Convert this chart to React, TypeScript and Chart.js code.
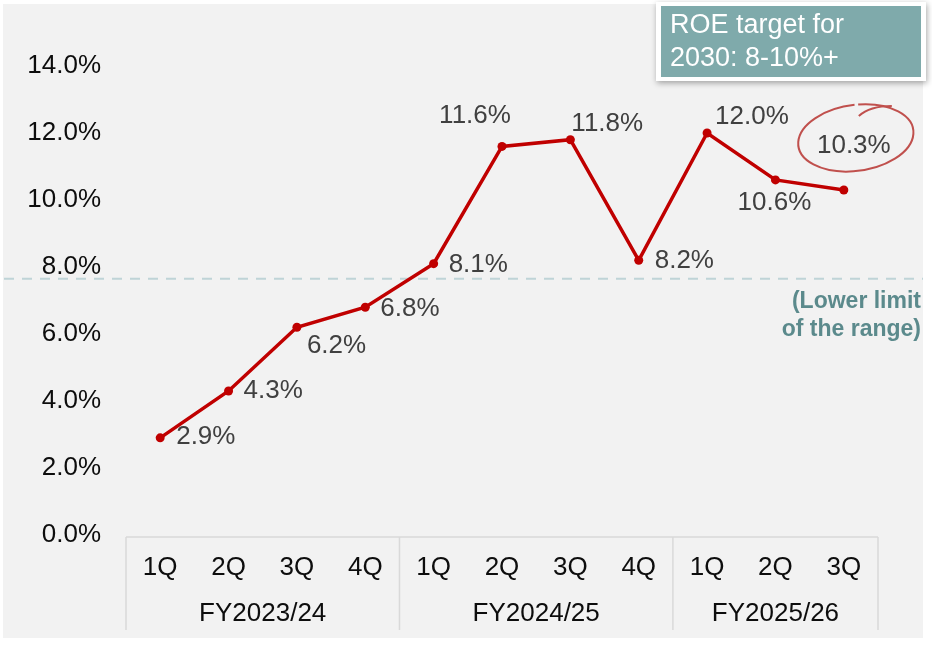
import React, { useEffect, useRef } from "react";
import { Chart, registerables } from "chart.js";

Chart.register(...registerables);

// ---- data ----
const quarters = ["1Q", "2Q", "3Q", "4Q", "1Q", "2Q", "3Q", "4Q", "1Q", "2Q", "3Q"];
const fiscalYears = ["FY2023/24", "FY2024/25", "FY2025/26"];
const quartersPerYear = [4, 4, 3];
const roeValues = [2.9, 4.3, 6.2, 6.8, 8.1, 11.6, 11.8, 8.2, 12.0, 10.6, 10.3];
const yTickValues = [0, 2, 4, 6, 8, 10, 12, 14];
const lowerLimitLine = 7.65;
const targetText = ["ROE target for", "2030: 8-10%+"];
const lowerLimitText = ["(Lower limit", "of the range)"];
const highlightIndex = 10;

// ---- label placement (style) ----
type Placement = { dx: number; dy: number; align: CanvasTextAlign };
const labelPlacement: Placement[] = [
  { dx: 16, dy: -1, align: "left" },
  { dx: 15, dy: 0, align: "left" },
  { dx: 10, dy: 19, align: "left" },
  { dx: 15, dy: 2, align: "left" },
  { dx: 15, dy: 1, align: "left" },
  { dx: -27, dy: -31, align: "center" },
  { dx: 1, dy: -16, align: "left" },
  { dx: 16, dy: 1, align: "left" },
  { dx: 8, dy: -16, align: "left" },
  { dx: -1, dy: 23, align: "center" },
  { dx: 10, dy: -44, align: "center" },
];

const FONT = "'Liberation Sans', Arial, sans-serif";
const RED = "#c00000";
const GRID = "#d9d9d9";

const decorPlugin = {
  id: "decor",
  beforeDraw(chart: any) {
    const { ctx, width, height } = chart;
    const yScale = chart.scales.y;
    const xScale = chart.scales.x;
    const area = chart.chartArea;
    ctx.save();
    ctx.fillStyle = "#ffffff";
    ctx.fillRect(0, 0, width, height);
    ctx.fillStyle = "#f2f2f2";
    ctx.fillRect(3, 4, 920, 634);

    // dashed lower-limit line
    const ly = yScale.getPixelForValue(lowerLimitLine);
    ctx.strokeStyle = "#bfd4d7";
    ctx.lineWidth = 2;
    ctx.setLineDash([10, 8]);
    ctx.beginPath();
    ctx.moveTo(4, ly);
    ctx.lineTo(923, ly);
    ctx.stroke();
    ctx.setLineDash([]);

    // lower limit text
    ctx.fillStyle = "#5b8a8c";
    ctx.font = `bold 23px ${FONT}`;
    ctx.textAlign = "right";
    ctx.textBaseline = "middle";
    lowerLimitText.forEach((t, i) => ctx.fillText(t, 921, ly + 23 + i * 28));

    // category table
    const top = area.bottom + 2;
    const bottom = 630;
    ctx.strokeStyle = GRID;
    ctx.lineWidth = 1.5;
    ctx.beginPath();
    ctx.moveTo(area.left, top);
    ctx.lineTo(area.right, top);
    ctx.stroke();
    const half = (xScale.getPixelForValue(1) - xScale.getPixelForValue(0)) / 2;
    let idx = 0;
    const bounds: number[] = [area.left];
    quartersPerYear.forEach((n) => {
      idx += n;
      bounds.push(idx >= quarters.length ? area.right : xScale.getPixelForValue(idx - 1) + half);
    });
    bounds.forEach((bx) => {
      ctx.beginPath();
      ctx.moveTo(bx, top);
      ctx.lineTo(bx, bottom);
      ctx.stroke();
    });
    ctx.fillStyle = "#0d0d0d";
    ctx.font = `26px ${FONT}`;
    ctx.textAlign = "center";
    ctx.textBaseline = "middle";
    fiscalYears.forEach((fy, i) => {
      ctx.fillText(fy, (bounds[i] + bounds[i + 1]) / 2, 614);
    });
    ctx.restore();
  },
  afterDatasetsDraw(chart: any) {
    const { ctx } = chart;
    const meta = chart.getDatasetMeta(0);
    ctx.save();
    ctx.font = `26px ${FONT}`;
    ctx.fillStyle = "#404040";
    ctx.textBaseline = "middle";
    meta.data.forEach((el: any, i: number) => {
      const p = labelPlacement[i];
      ctx.textAlign = p.align;
      ctx.fillText(`${roeValues[i].toFixed(1)}%`, el.x + p.dx, el.y + p.dy);
    });

    // hand-drawn circle around highlighted value
    const hp = meta.data[highlightIndex];
    const cx = hp.x + 12;
    const cy = hp.y - 52;
    ctx.strokeStyle = "#c0504d";
    ctx.lineWidth = 2;
    ctx.beginPath();
    ctx.ellipse(cx, cy, 58, 33, -0.14, -1.45, -1.45 + Math.PI * 2 * 0.99);
    ctx.stroke();
    ctx.beginPath();
    ctx.moveTo(cx + 3, cy - 22);
    ctx.quadraticCurveTo(cx + 14, cy - 32, cx + 36, cy - 32);
    ctx.stroke();

    // target box
    ctx.shadowColor = "rgba(0,0,0,0.35)";
    ctx.shadowBlur = 6;
    ctx.shadowOffsetX = 1;
    ctx.shadowOffsetY = 2;
    ctx.fillStyle = "#ffffff";
    ctx.fillRect(656, 2, 270, 79);
    ctx.shadowColor = "transparent";
    ctx.fillStyle = "#7faaab";
    ctx.fillRect(661, 6, 260, 71);
    ctx.fillStyle = "#ffffff";
    ctx.font = `27px ${FONT}`;
    ctx.textAlign = "left";
    ctx.textBaseline = "middle";
    targetText.forEach((t, i) => ctx.fillText(t, 670, 26 + i * 33));
    ctx.restore();
  },
};

export default function App() {
  const ref = useRef<HTMLCanvasElement>(null);
  useEffect(() => {
    if (!ref.current) return;
    const chart = new Chart(ref.current, {
      type: "line",
      data: {
        labels: quarters,
        datasets: [
          {
            data: roeValues,
            borderColor: RED,
            backgroundColor: RED,
            borderWidth: 3.5,
            pointRadius: 4.5,
            pointBackgroundColor: RED,
            pointBorderWidth: 0,
            tension: 0,
          },
        ],
      },
      options: {
        animation: false,
        responsive: false,
        layout: { padding: { top: 66, right: 54, bottom: 0, left: 0 } },
        plugins: { legend: { display: false }, tooltip: { enabled: false } },
        scales: {
          x: {
            type: "category",
            offset: true,
            grid: { display: false },
            border: { display: false },
            ticks: {
              font: { family: FONT, size: 26 },
              color: "#0d0d0d",
              padding: 9,
              maxRotation: 0,
              autoSkip: false,
            },
            afterFit: (s: any) => {
              s.height = 111;
            },
          },
          y: {
            min: 0,
            max: 14,
            grid: { display: false },
            border: { display: false },
            afterBuildTicks: (s: any) => {
              s.ticks = yTickValues.map((v) => ({ value: v }));
            },
            ticks: {
              font: { family: FONT, size: 26 },
              color: "#0d0d0d",
              padding: 17,
              callback: (v: any) => `${Number(v).toFixed(1)}%`,
            },
            afterFit: (s: any) => {
              s.width = 126;
            },
          },
        },
      },
      plugins: [decorPlugin],
    });
    return () => chart.destroy();
  }, []);
  return (
    <div style={{ position: "fixed", left: 0, top: 0, width: 932, height: 646 }}>
      <canvas ref={ref} width={932} height={646} style={{ width: 932, height: 646 }} />
    </div>
  );
}
